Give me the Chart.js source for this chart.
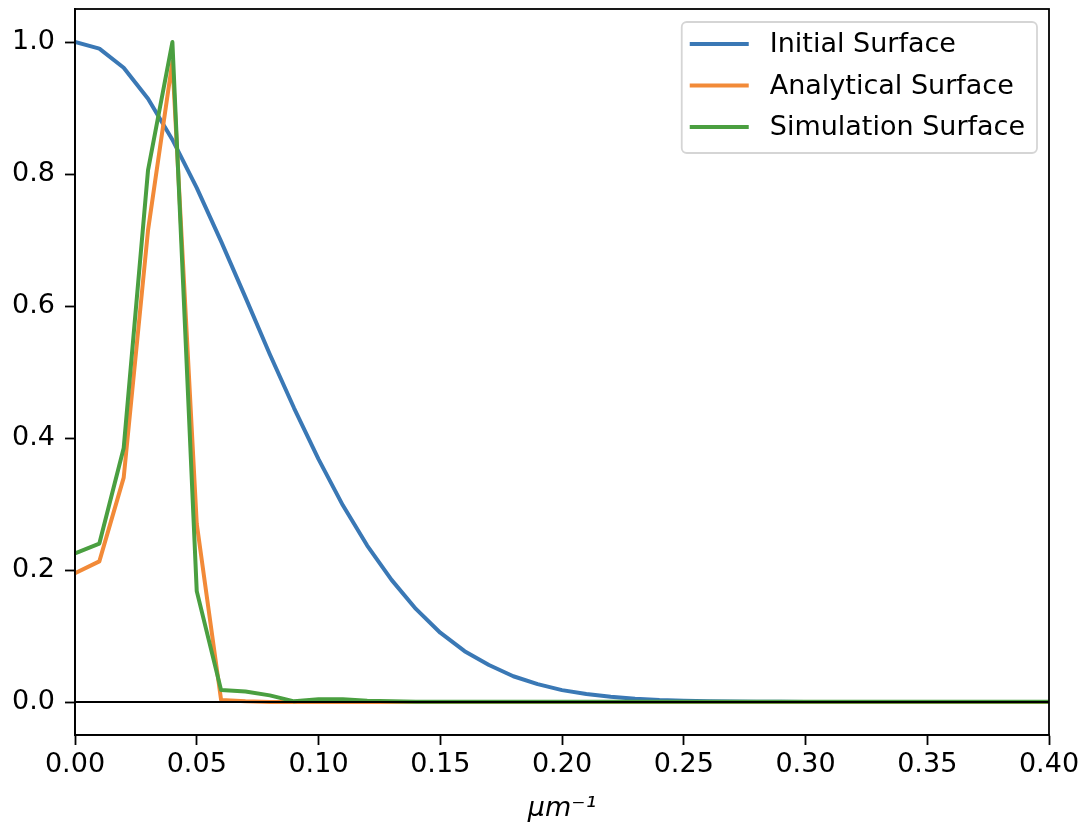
<!DOCTYPE html>
<html>
<head>
<meta charset="utf-8">
<script src="https://cdn.jsdelivr.net/npm/chart.js@4.4.0/dist/chart.umd.min.js"></script>
<style>
  html, body { margin: 0; padding: 0; background: #fff; }
  #wrap { width: 1081px; height: 825px; }
</style>
</head>
<body>
<div id="wrap"><canvas id="chart" width="1081" height="825"></canvas></div>
<script>
// x positions (um^-1)
const xValues = [0.00, 0.01, 0.02, 0.03, 0.04, 0.05, 0.06, 0.07, 0.08, 0.09,
                 0.10, 0.11, 0.12, 0.13, 0.14, 0.15, 0.16, 0.17, 0.18, 0.19,
                 0.20, 0.21, 0.22, 0.23, 0.24, 0.25, 0.26, 0.27, 0.28, 0.29,
                 0.30, 0.31, 0.32, 0.33, 0.34, 0.35, 0.36, 0.37, 0.38, 0.39, 0.40];

const initialSurface = [1.000, 0.990, 0.961, 0.914, 0.852, 0.779, 0.698, 0.613, 0.527, 0.445,
                        0.368, 0.298, 0.237, 0.185, 0.141, 0.105, 0.077, 0.056, 0.039, 0.027,
                        0.018, 0.012, 0.008, 0.005, 0.003, 0.002, 0.001, 0.0007, 0.0004, 0.0002,
                        0.0001, 0, 0, 0, 0, 0, 0, 0, 0, 0, 0];

const analyticalSurface = [0.195, 0.213, 0.340, 0.715, 0.970, 0.270, 0.003, 0.001, 0, 0,
                           0, 0, 0, 0, 0, 0, 0, 0, 0, 0,
                           0, 0, 0, 0, 0, 0, 0, 0, 0, 0,
                           0, 0, 0, 0, 0, 0, 0, 0, 0, 0, 0];

const simulationSurface = [0.225, 0.240, 0.385, 0.806, 1.000, 0.168, 0.018, 0.016, 0.010, 0.001,
                           0.004, 0.004, 0.002, 0.001, 0.0005, 0.0005, 0.0005, 0.0005, 0.0005, 0.0005,
                           0.0005, 0.0005, 0.0005, 0.0005, 0.0005, 0.0005, 0.0005, 0.0005, 0.0005, 0.0005,
                           0.0005, 0.0005, 0.0005, 0.0005, 0.0005, 0.0005, 0.0005, 0.0005, 0.0005, 0.0005, 0.0005];

const seriesLabels = ['Initial Surface', 'Analytical Surface', 'Simulation Surface'];
const seriesColors = ['#3a78b5', '#f28a38', '#4a9f40'];
const xTicks = [0.00, 0.05, 0.10, 0.15, 0.20, 0.25, 0.30, 0.35, 0.40];
const yTicks = [0.0, 0.2, 0.4, 0.6, 0.8, 1.0];

const FONT = 'DejaVu Sans';
const FONT_SIZE = 27;

function toPoints(ys) {
    return xValues.map((x, i) => ({ x: x, y: ys[i] }));
}

// box round the plot plus the y=0 line
const framePlugin = {
    id: 'frame',
    afterDatasetsDraw(chart) {
        const { ctx, chartArea: a, scales } = chart;
        ctx.save();
        const y0 = scales.y.getPixelForValue(0);
        ctx.strokeStyle = '#000';
        ctx.lineWidth = 2.2;
        ctx.beginPath();
        ctx.moveTo(a.left, y0);
        ctx.lineTo(a.right, y0);
        ctx.stroke();
        ctx.lineWidth = 1.8;
        ctx.strokeRect(a.left, a.top, a.right - a.left, a.bottom - a.top);
        ctx.restore();
    }
};

// matplotlib style legend, upper right
const legendPlugin = {
    id: 'mplLegend',
    afterDraw(chart) {
        const { ctx, chartArea: a } = chart;
        ctx.save();
        ctx.font = FONT_SIZE + 'px ' + FONT;
        const rowH = 41.5;
        const lineLen = 59;
        const widths = seriesLabels.map(t => ctx.measureText(t).width);
        const boxW = 8 + lineLen + 21 + Math.max(...widths) + 12;
        const boxH = 131;
        const bx = a.right - 12 - boxW;
        const by = a.top + 13;
        ctx.fillStyle = 'rgba(255,255,255,0.8)';
        ctx.strokeStyle = '#d5d5d5';
        ctx.lineWidth = 1.8;
        ctx.beginPath();
        ctx.roundRect(bx, by, boxW, boxH, 5);
        ctx.fill();
        ctx.stroke();
        seriesLabels.forEach((t, i) => {
            const cy = by + 22 + i * rowH;
            ctx.strokeStyle = seriesColors[i];
            ctx.lineWidth = 4;
            ctx.beginPath();
            ctx.moveTo(bx + 8, cy);
            ctx.lineTo(bx + 8 + lineLen, cy);
            ctx.stroke();
            ctx.fillStyle = '#000';
            ctx.textBaseline = 'middle';
            ctx.fillText(t, bx + 8 + lineLen + 21, cy + 1);
        });
        ctx.restore();
    }
};

const datasets = [initialSurface, analyticalSurface, simulationSurface].map((ys, i) => ({
    label: seriesLabels[i],
    data: toPoints(ys),
    borderColor: seriesColors[i],
    backgroundColor: seriesColors[i],
    borderWidth: 4,
    borderJoinStyle: 'round',
    borderCapStyle: 'butt',
    pointRadius: 0,
    tension: 0,
    fill: false,
    order: 3 - i
}));

const tickGrid = { display: true, drawOnChartArea: false, drawTicks: true, tickLength: 10, tickColor: '#000', tickWidth: 1.8 };

new Chart(document.getElementById('chart'), {
    type: 'line',
    data: { datasets: datasets },
    options: {
        responsive: false,
        animation: false,
        layout: { padding: { top: 9, right: 32, left: 0, bottom: 0 } },
        plugins: { legend: { display: false }, tooltip: { enabled: false } },
        scales: {
            x: {
                type: 'linear',
                min: 0,
                max: 0.40,
                afterBuildTicks: s => { s.ticks = xTicks.map(v => ({ value: v })); },
                afterFit: s => { s.height = 90; s.paddingLeft = 0; s.paddingRight = 0; },
                grid: tickGrid,
                border: { display: true, color: '#000', width: 1.8 },
                ticks: {
                    color: '#000',
                    font: { family: FONT, size: FONT_SIZE },
                    padding: 4,
                    maxRotation: 0,
                    callback: v => v.toFixed(2)
                },
                title: {
                    display: true,
                    text: 'μm⁻¹',
                    color: '#000',
                    font: { family: FONT, size: FONT_SIZE, style: 'italic' },
                    padding: { top: 2, bottom: 0 }
                }
            },
            y: {
                type: 'linear',
                min: -0.05,
                max: 1.05,
                afterBuildTicks: s => { s.ticks = yTicks.map(v => ({ value: v })); },
                afterFit: s => { s.width = 75; s.paddingTop = 0; s.paddingBottom = 0; },
                grid: tickGrid,
                border: { display: true, color: '#000', width: 1.8 },
                ticks: {
                    color: '#000',
                    font: { family: FONT, size: FONT_SIZE },
                    padding: 10,
                    callback: v => v.toFixed(1)
                }
            }
        }
    },
    plugins: [framePlugin, legendPlugin]
});
</script>
</body>
</html>
